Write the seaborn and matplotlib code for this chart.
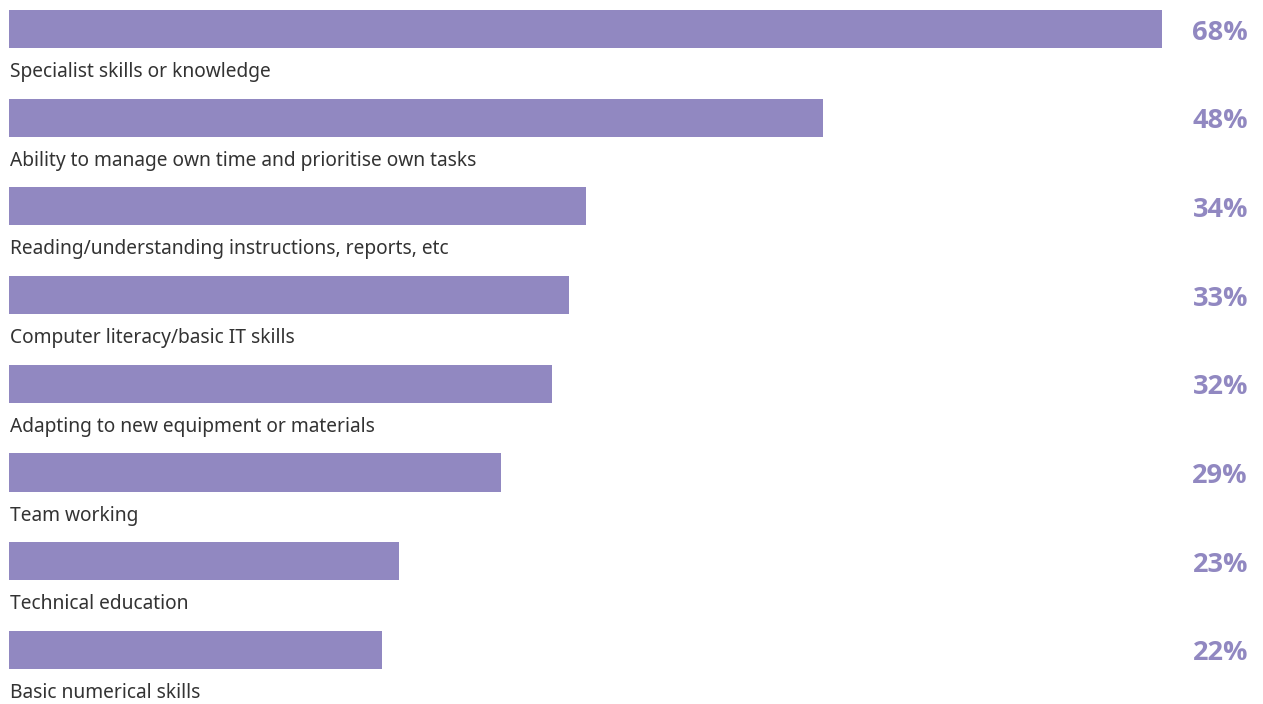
import matplotlib
matplotlib.use("Agg")
import matplotlib.pyplot as plt
import seaborn as sns
import pandas as pd

categories = [
    "Specialist skills or knowledge",
    "Ability to manage own time and prioritise own tasks",
    "Reading/understanding instructions, reports, etc",
    "Computer literacy/basic IT skills",
    "Adapting to new equipment or materials",
    "Team working",
    "Technical education",
    "Basic numerical skills",
]
values = [68, 48, 34, 33, 32, 29, 23, 22]
value_labels = ["68%", "48%", "34%", "33%", "32%", "29%", "23%", "22%"]

BAR = "#9188C1"
TEXT = "#333333"

sns.set_theme(style="white")
plt.rcParams["font.family"] = ["Noto Sans", "DejaVu Sans"]

df = pd.DataFrame({"skill": categories, "share": values})

fig = plt.figure(figsize=(12.63, 7.04), dpi=100)
ax = fig.add_axes([0, 0, 1, 1])
sns.barplot(data=df, y="skill", x="share", orient="h", color=BAR,
            saturation=1, width=0.43, linewidth=0, ax=ax)

px_per_unit = 16.96
ax.set_xlim(-9 / px_per_unit, (1263 - 9) / px_per_unit)
pitch = 88.7
ax.set_ylim((704 - 29) / pitch, -29 / pitch)

for i, (name, lab) in enumerate(zip(categories, value_labels)):
    ax.text(0.05, i + 0.485, name, ha="left", va="center",
            fontsize=13.8, color=TEXT)
    ax.text((1248 - 9) / px_per_unit, i + 0.04, lab,
            ha="right", va="center", fontsize=19.5, fontweight="bold",
            color=BAR, family=["Open Sans", "DejaVu Sans"])

ax.set_axis_off()
fig.savefig("out.png", dpi=100, facecolor="white")
